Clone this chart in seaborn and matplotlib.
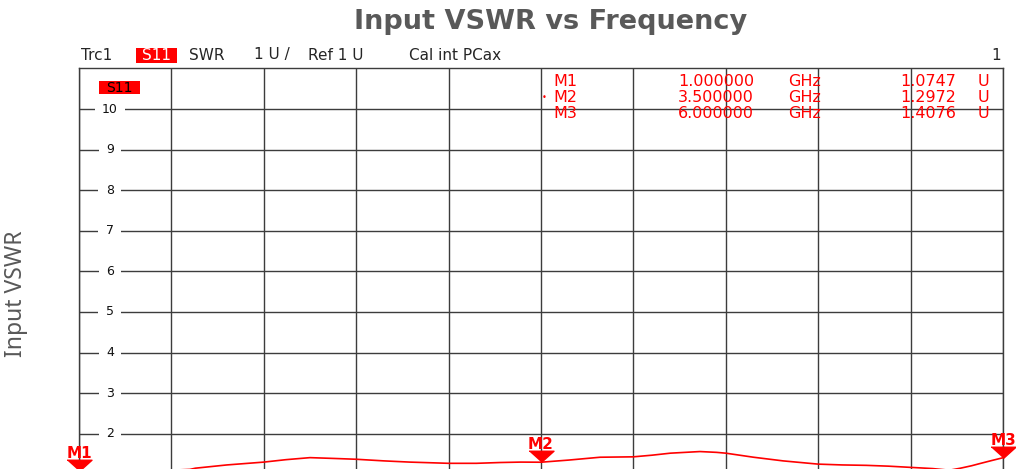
import matplotlib
matplotlib.use("Agg")
import matplotlib.pyplot as plt
from matplotlib.patches import Rectangle
import seaborn as sns
import pandas as pd
import numpy as np

# trace (GHz, SWR)
freq_ghz = [1.0, 1.2, 1.4, 1.6, 1.63, 1.8, 2.0, 2.12, 2.25, 2.38, 2.5, 2.65, 2.79,
            3.0, 3.15, 3.28, 3.39, 3.5, 3.65, 3.82, 4.0, 4.1, 4.2, 4.36, 4.45,
            4.5, 4.65, 4.81, 5.0, 5.13, 5.26, 5.38, 5.5, 5.62, 5.71, 5.77,
            5.83, 5.88, 5.94, 6.0]
vswr = [1.0747, 1.06, 1.08, 1.12, 1.15, 1.23, 1.30, 1.36, 1.41, 1.39, 1.37, 1.33, 1.30,
        1.27, 1.27, 1.29, 1.30, 1.2972, 1.35, 1.42, 1.43, 1.47, 1.52, 1.56, 1.54,
        1.52, 1.42, 1.33, 1.25, 1.23, 1.22, 1.20, 1.17, 1.14, 1.10, 1.15,
        1.21, 1.27, 1.34, 1.4076]

marker_names = ["M1", "M2", "M3"]
marker_freq = [1.0, 3.5, 6.0]
marker_vswr = [1.0747, 1.2972, 1.4076]
marker_freq_txt = ["1.000000", "3.500000", "6.000000"]
marker_vswr_txt = ["1.0747", "1.2972", "1.4076"]

y_ticks = [2, 3, 4, 5, 6, 7, 8, 9, 10]
x_grid = np.arange(1.0, 6.01, 0.5)

W, H = 1016, 469
RED = "#ff0000"
GRID = "#3c3c3c"

sns.set_style("white")
plt.rcParams["font.family"] = ["DejaVu Sans"]

fig = plt.figure(figsize=(W / 100, H / 100), dpi=100)


def fx(px):
    return px / W


def fy(py):
    return 1 - py / H


def red_box(x0, y0, x1, y1):
    # background block given in pixels (top-left, bottom-right)
    fig.patches.append(Rectangle((fx(x0), fy(y1)), fx(x1) - fx(x0), fy(y0) - fy(y1),
                                 transform=fig.transFigure, fc=RED, ec="none", zorder=10))


ax = fig.add_axes([fx(79), 0, fx(1003) - fx(79), fy(68.5)])
ax.set_xlim(1.0, 6.0)
ax.set_ylim(1.13, 11.0)
ax.set_xticks([])
ax.set_yticks([])
for s in ["left", "right", "top"]:
    ax.spines[s].set_color(GRID)
    ax.spines[s].set_linewidth(1.0)
ax.spines["bottom"].set_visible(False)

for x in x_grid:
    ax.axvline(x, color=GRID, lw=1.0, zorder=1)
for y in y_ticks:
    ax.axhline(y, color=GRID, lw=1.0, zorder=1)
    ax.text(0.0335, y, str(y), transform=ax.get_yaxis_transform(), ha="center", va="center",
            fontsize=9, color="#111111", zorder=3,
            bbox=dict(boxstyle="square,pad=0.6", fc="white", ec="none"))

df = pd.DataFrame({"freq": freq_ghz, "vswr": vswr})
sns.lineplot(data=df, x="freq", y="vswr", ax=ax, color=RED, lw=1.2, zorder=4)

# marker triangles, tip on the trace
tri = [(-1, 0.9), (1, 0.9), (0, 0)]
ax.plot(marker_freq, marker_vswr, ls="none", marker=tri, markersize=18, color=RED,
        clip_on=False, zorder=5)
for name, f, v in zip(marker_names, marker_freq, marker_vswr):
    ax.annotate(name, (f, v), xytext=(0, 12.5), textcoords="offset points", ha="center",
                va="center", fontsize=11, fontweight="bold", color=RED,
                annotation_clip=False, zorder=6)

# marker table
rows_y = [82, 98, 113]
fs_tab = 11.5
for i, ry in enumerate(rows_y):
    fig.text(fx(553), fy(ry), marker_names[i], ha="left", va="center", fontsize=fs_tab, color=RED)
    fig.text(fx(754), fy(ry), marker_freq_txt[i], ha="right", va="center", fontsize=fs_tab, color=RED)
    fig.text(fx(788), fy(ry), "GHz", ha="left", va="center", fontsize=fs_tab, color=RED)
    fig.text(fx(956), fy(ry), marker_vswr_txt[i], ha="right", va="center", fontsize=fs_tab, color=RED)
    fig.text(fx(978), fy(ry), "U", ha="left", va="center", fontsize=fs_tab, color=RED)
fig.text(fx(544), fy(98), "•", ha="center", va="center", fontsize=6, color=RED)

# S11 tag inside the grid
red_box(99, 81, 140, 94)
fig.text(fx(119.5), fy(87.5), "S11", ha="center", va="center", fontsize=10, color="black", zorder=11)

# analyzer header line
hy = fy(55)
fs_hd = 11
fig.text(fx(81), hy, "Trc1", ha="left", va="center", fontsize=fs_hd)
red_box(136, 48, 177, 63)
fig.text(fx(156.5), hy, "S11", ha="center", va="center", fontsize=fs_hd, color="white", zorder=11)
fig.text(fx(189), hy, "SWR", ha="left", va="center", fontsize=fs_hd)
fig.text(fx(254), hy, "1 U /", ha="left", va="center", fontsize=fs_hd)
fig.text(fx(308), hy, "Ref 1 U", ha="left", va="center", fontsize=fs_hd)
fig.text(fx(409), hy, "Cal int PCax", ha="left", va="center", fontsize=fs_hd)
fig.text(fx(1001), hy, "1", ha="right", va="center", fontsize=fs_hd)

fig.text(fx(551), fy(22), "Input VSWR vs Frequency", ha="center", va="center",
         fontsize=19.5, fontweight="bold", color="#595959")
fig.text(fx(16), fy(294), "Input VSWR", ha="center", va="center", rotation=90,
         fontsize=16.5, color="#595959", family=["Noto Sans", "DejaVu Sans"])

fig.savefig("out.png", dpi=100)
